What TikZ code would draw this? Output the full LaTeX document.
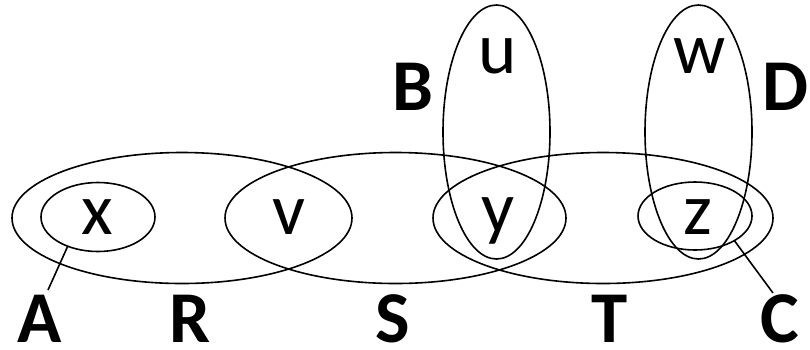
\documentclass[tikz,border=0pt]{standalone}
\usepackage{fontspec}
\setmainfont{Carlito}
\usetikzlibrary{shapes.geometric}
\begin{document}
\begin{tikzpicture}[x=1pt,y=-1pt,
  ring/.style={draw,ellipse,line width=1.6pt,inner sep=0pt,outer sep=0pt,minimum width=#1},
  elem/.style={anchor=base,inner sep=0pt,font=\fontsize{73}{80}\selectfont},
  setlab/.style={anchor=base,inner sep=0pt,font=\fontsize{73}{80}\selectfont\bfseries},
  link/.style={line width=1.6pt}]
\useasboundingbox (0,0) rectangle (810,349);
% large ellipses
\node[ring=340pt,minimum height=131pt] (R) at (182,218) {};
\node[ring=341pt,minimum height=131pt] (S) at (395.5,218) {};
\node[ring=340pt,minimum height=131pt] (T) at (603,218) {};
% small ellipses
\node[ring=114pt,minimum height=69pt] (X) at (98,217) {};
\node[ring=114pt,minimum height=68pt] (Z) at (695,216) {};
% tall ellipses
\node[ring=107pt,minimum height=254pt] (U) at (496.5,132) {};
\node[ring=107pt,minimum height=254pt] (W) at (698.5,132) {};
% element labels
\node[elem] (tx) at (97,234) {x};
\node[elem] (tv) at (289,234) {v};
\node[elem] (ty) at (498,232) {y};
\node[elem] (tz) at (698,234) {z};
\node[elem] (tu) at (498,73) {u};
\node[elem] (tw) at (700,73) {w};
% set labels
\node[setlab] (lA) at (40,342) {A};
\node[setlab] (lR) at (190,342) {R};
\node[setlab] (lS) at (393,342) {S};
\node[setlab] (lT) at (610,342) {T};
\node[setlab] (lC) at (780,342) {C};
\node[setlab] (lB) at (413,110) {B};
\node[setlab] (lD) at (785,110) {D};
% connectors
\coordinate (aend) at (48,290);
\coordinate (cend) at (773,293);
\draw[link] (aend) -- (X.224);
\draw[link] (cend) -- (Z.-32);
\end{tikzpicture}
\end{document}
